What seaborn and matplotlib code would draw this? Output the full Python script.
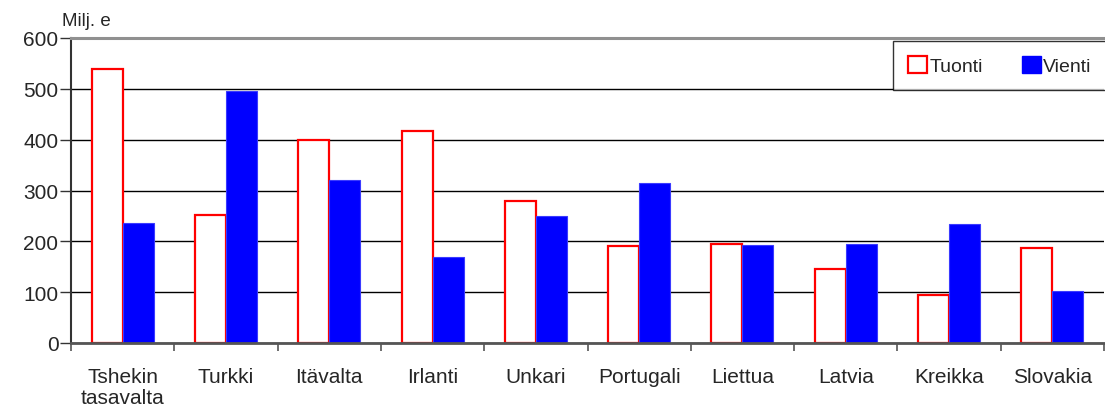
import pandas as pd
import seaborn as sns
import matplotlib.pyplot as plt
from matplotlib.patches import Patch

maat = ["Tshekin\ntasavalta", "Turkki", "Itävalta", "Irlanti", "Unkari",
        "Portugali", "Liettua", "Latvia", "Kreikka", "Slovakia"]
tuonti = [540, 251, 400, 418, 279, 190, 195, 145, 94, 186]
vienti = [236, 496, 320, 170, 249, 314, 193, 194, 235, 102]
sarjat = ["Tuonti", "Vienti"]
y_ticks = [0, 100, 200, 300, 400, 500, 600]

df = pd.DataFrame({
    "maa": maat * 2,
    "arvo": tuonti + vienti,
    "sarja": ["Tuonti"] * len(maat) + ["Vienti"] * len(maat),
})

sns.set_style("white")
plt.rcParams["font.family"] = ["Liberation Sans", "DejaVu Sans"]

fig = plt.figure(figsize=(11.05, 4.14), dpi=100)
ax = fig.add_axes([71 / 1105, 1 - 344 / 414, 1033 / 1105, 305 / 414])

sns.barplot(data=df, x="maa", y="arvo", hue="sarja", hue_order=sarjat,
            order=maat, width=0.6, legend=False, ax=ax, errorbar=None)

n = len(maat)
for i, bar in enumerate(ax.patches[:2 * n]):
    if i < n:
        bar.set_facecolor("white")
        bar.set_edgecolor("#ff0000")
        bar.set_linewidth(1.6)
    else:
        bar.set_facecolor("#0000ff")
        bar.set_edgecolor("#3a3aff")
        bar.set_linewidth(0.8)
    bar.set_zorder(3)

ax.set_xlim(-0.5, n - 0.5)
ax.set_ylim(0, 600)
ax.set_yticks(y_ticks)
ax.set_yticklabels([str(v) for v in y_ticks], fontsize=15)
ax.set_xticks(range(n))
ax.set_xticklabels(maat, fontsize=15, linespacing=1.15)
ax.set_xticks([i - 0.5 for i in range(n + 1)], minor=True)
ax.tick_params(axis="x", which="major", length=0, pad=17)
ax.tick_params(axis="x", which="minor", length=6, width=1.2, color="#555555",
               direction="out", bottom=True)
ax.tick_params(axis="y", length=8, width=1, color="#333333", direction="out",
               left=True, pad=1)
ax.set_xlabel("")
ax.set_ylabel("")

ax.yaxis.grid(True, color="black", linewidth=1)
ax.set_axisbelow(True)

ax.spines["right"].set_visible(False)
ax.spines["top"].set_color("#909090")
ax.spines["top"].set_linewidth(2.2)
ax.spines["left"].set_color("#333333")
ax.spines["left"].set_linewidth(1.5)
ax.spines["bottom"].set_color("#555555")
ax.spines["bottom"].set_linewidth(2)
for sp in ax.spines.values():
    sp.set_zorder(4)

handles = [Patch(facecolor="white", edgecolor="#ff0000", linewidth=1.6),
           Patch(facecolor="#0000ff", edgecolor="#0000ff")]
leg = ax.legend(handles, sarjat, loc="upper right", bbox_to_anchor=(1.002, 0.99),
                ncol=2, fontsize=14, frameon=True, fancybox=False,
                edgecolor="black", handlelength=1.0, handleheight=1.0,
                handletextpad=0.1, columnspacing=2.0, borderpad=0.75,
                borderaxespad=0)
leg.get_frame().set_linewidth(1.0)
leg.set_zorder(5)

fig.text(62 / 1105, 1 - 21 / 414, "Milj. e", fontsize=13.5, ha="left", va="center")

fig.savefig("out.png", dpi=100)
